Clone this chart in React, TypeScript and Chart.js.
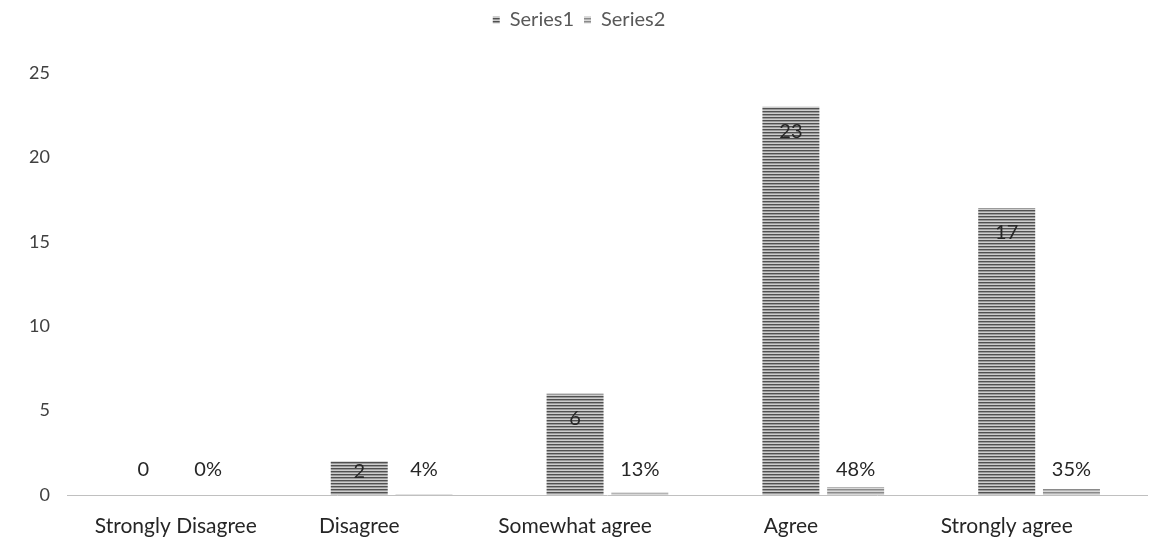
import React, { useEffect, useRef } from "react";
import { Chart, registerables } from "chart.js";

Chart.register(...registerables);

const categories = ["Strongly Disagree", "Disagree", "Somewhat agree", "Agree", "Strongly agree"];
const series1 = [0, 2, 6, 23, 17];
const series2 = [0, 0.04, 0.13, 0.48, 0.35];
const yTicks = [0, 5, 10, 15, 20, 25];

const FONT = "Lato, 'Liberation Sans', sans-serif";

function makePattern(dark: string, mid: string, light: string): CanvasPattern | string {
  const c = document.createElement("canvas");
  c.width = 4;
  c.height = 3;
  const g = c.getContext("2d")!;
  g.fillStyle = light;
  g.fillRect(0, 0, 4, 3);
  g.fillStyle = mid;
  g.fillRect(0, 1, 4, 1);
  g.fillStyle = dark;
  g.fillRect(0, 0, 4, 1);
  const main = document.createElement("canvas").getContext("2d")!;
  return main.createPattern(c, "repeat") || dark;
}

const legendMargin = {
  id: "legendMargin",
  beforeInit(chart: any) {
    const legend = chart.legend;
    if (!legend) return;
    const fit = legend.fit;
    legend.fit = function () {
      fit.bind(legend)();
      this.height += 33;
    };
  },
};

const labelsPlugin = {
  id: "customLabels",
  afterDatasetsDraw(chart: any) {
    const ctx = chart.ctx;
    const y = chart.scales.y;
    const base = y.getPixelForValue(0);
    ctx.save();
    ctx.font = `20px ${FONT}`;
    ctx.fillStyle = "#262626";
    ctx.textAlign = "center";
    ctx.textBaseline = "middle";
    chart.data.datasets.forEach((ds: any, di: number) => {
      const meta = chart.getDatasetMeta(di);
      meta.data.forEach((bar: any, i: number) => {
        const v = ds.data[i];
        let ly: number;
        let txt: string;
        if (di === 0) {
          txt = String(v);
          if (v === 0) ly = base - 25;
          else ly = bar.y + Math.min(25, (base - bar.y) * 0.3);
        } else {
          txt = Math.round(v * 100) + "%";
          ly = base - 25;
        }
        ctx.fillText(txt, bar.x, ly);
      });
    });
    // category labels
    const meta0 = chart.getDatasetMeta(0);
    const xs = chart.scales.x;
    ctx.font = `21px ${FONT}`;
    ctx.fillStyle = "#262626";
    chart.data.labels.forEach((lab: string, i: number) => {
      const cx = i === 0 ? xs.getPixelForValue(i) : meta0.data[i].x;
      ctx.fillText(lab, cx, base + 31);
    });
    ctx.restore();
  },
};

export default function App() {
  const ref = useRef<HTMLCanvasElement | null>(null);
  useEffect(() => {
    if (!ref.current) return;
    const p1 = makePattern("#505050", "#9a9a9a", "#cdcdcd");
    const p2 = makePattern("#8a8a8a", "#b4b4b4", "#d8d8d8");
    const chart = new Chart(ref.current, {
      type: "bar",
      data: {
        labels: categories,
        datasets: [
          { label: "Series1", data: series1, backgroundColor: p1 as any, borderWidth: 0, categoryPercentage: 0.6, barPercentage: 0.88 },
          { label: "Series2", data: series2, backgroundColor: p2 as any, borderWidth: 0, categoryPercentage: 0.6, barPercentage: 0.88 },
        ],
      },
      options: {
        animation: false,
        responsive: false,
        maintainAspectRatio: false,
        layout: { padding: { top: 0, left: 11, right: 18, bottom: 58 } },
        plugins: {
          legend: {
            position: "top",
            labels: {
              font: { family: FONT, size: 20 },
              color: "#595959",
              boxWidth: 7,
              boxHeight: 7,
              padding: 10,
            },
          },
          tooltip: { enabled: false },
        },
        scales: {
          x: {
            grid: { display: false, drawTicks: false },
            border: { display: true, color: "#c0c0c0", width: 1 },
            ticks: { display: false },
          },
          y: {
            min: 0,
            max: 25,
            grid: { display: false, drawTicks: false },
            border: { display: false },
            afterBuildTicks: (axis: any) => {
              axis.ticks = yTicks.map((v) => ({ value: v }));
            },
            ticks: {
              padding: 18,
              color: "#404040",
              font: { family: FONT, size: 18 },
            },
          },
        },
      },
      plugins: [legendMargin, labelsPlugin],
    });
    return () => chart.destroy();
  }, []);
  return (
    <div style={{ position: "fixed", left: 0, top: 0, width: 1165, height: 553, background: "#fff" }}>
      <canvas ref={ref} width={1165} height={553} style={{ width: 1165, height: 553 }} />
    </div>
  );
}
